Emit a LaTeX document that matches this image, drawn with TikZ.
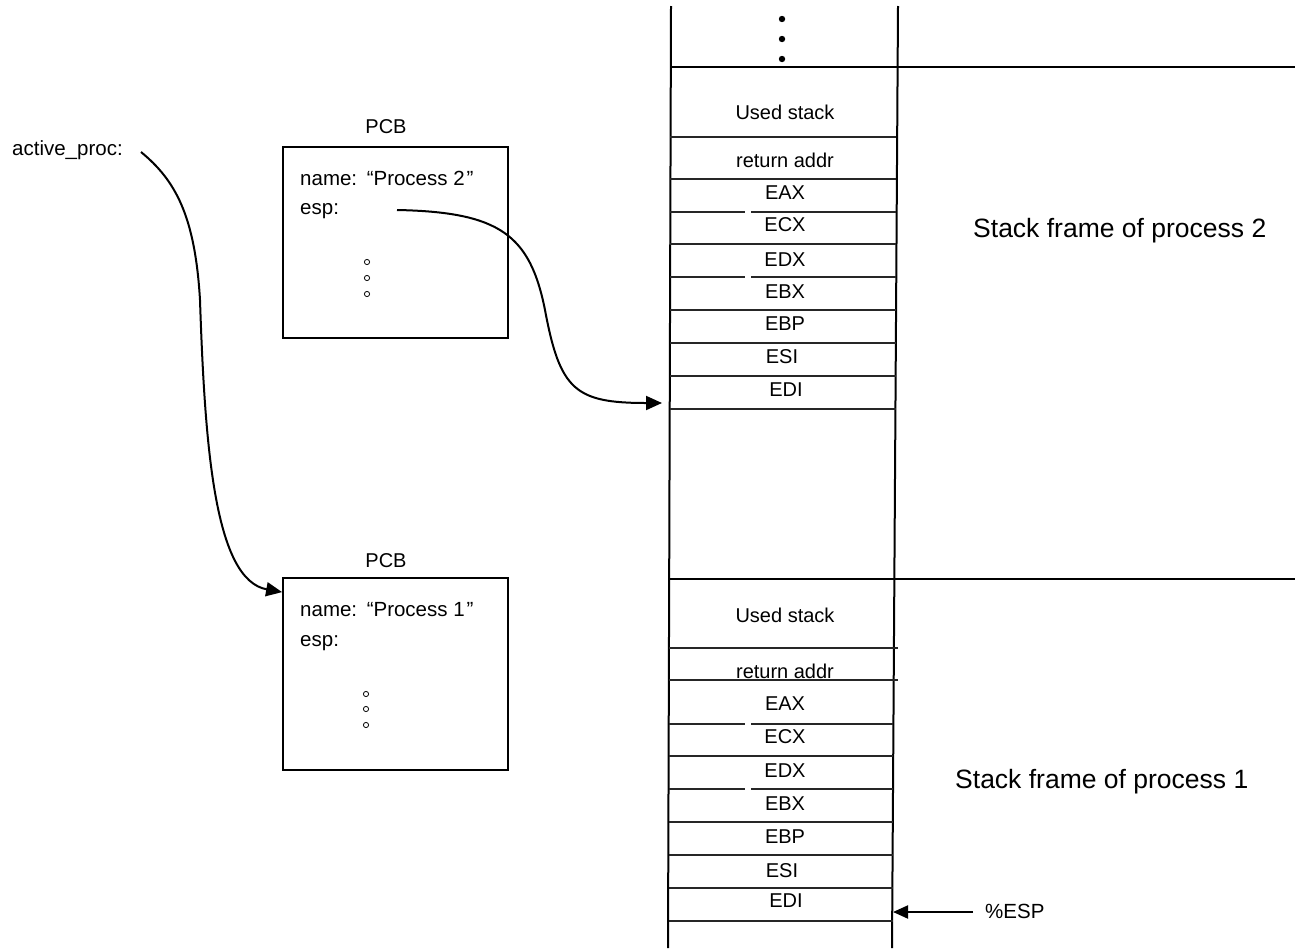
\documentclass[tikz,border=0pt]{standalone}
\usepackage{fontspec}
\setmainfont{Liberation Sans}
\usetikzlibrary{arrows.meta,calc}
\begin{document}
\begin{tikzpicture}[x=1pt,y=-1pt,
  lbl/.style={inner sep=0pt, anchor=base, font=\fontsize{20}{24}\selectfont},
  lblw/.style={inner sep=0pt, anchor=base west, font=\fontsize{20.5}{24}\selectfont},
  big/.style={inner sep=0pt, anchor=base west, font=\fontsize{26.5}{32}\selectfont},
  pcbbox/.style={draw, line width=1.8pt, minimum width=225pt, minimum height=191pt, inner sep=0pt},
  row/.style={line width=1.2pt, draw=black!85},
  wall/.style={line width=2pt},
  sep/.style={line width=1.6pt},
  conn/.style={line width=2pt, -{Triangle[length=16pt,width=14pt]}},
  dotc/.style={line width=0.8pt}]
\useasboundingbox (0,0) rectangle (1295,948);

% stack walls
\draw[wall] (671,6) -- (668,948);
\draw[wall] (898,6) -- (892,948);
% frame separators
\draw[sep] (670,67) -- (1295,67);
\draw[sep] (669,579) -- (1295,579);
% dots on top
\fill (782,19) circle (3.2pt);
\fill (782,39) circle (3.2pt);
\fill (782,59) circle (3.2pt);

% top frame rows
\foreach \y in {137,179,244,310,343,376,409} \draw[row] (670,\y) -- (896,\y);
\foreach \y in {212,277} {\draw[row] (670,\y) -- (745,\y); \draw[row] (751,\y) -- (896,\y);}
% bottom frame rows
\foreach \y in {648,680} \draw[row] (669,\y) -- (898,\y);
\foreach \y in {756,822,855,888,921} \draw[row] (669,\y) -- (893,\y);
\foreach \y in {724,789} {\draw[row] (669,\y) -- (745,\y); \draw[row] (751,\y) -- (893,\y);}

% top frame labels
\node[lbl] (us2) at (785,119) {Used stack};
\node[lbl] (ra2) at (785,167) {return addr};
\node[lbl] (eax2) at (785,199) {EAX};
\node[lbl] (ecx2) at (785,231) {ECX};
\node[lbl] (edx2) at (785,266) {EDX};
\node[lbl] (ebx2) at (785,298) {EBX};
\node[lbl] (ebp2) at (785,330) {EBP};
\node[lbl] (esi2) at (782,363) {ESI};
\node[lbl] (edi2) at (786,396) {EDI};
% bottom frame labels
\node[lbl] (us1) at (785,622) {Used stack};
\node[lbl] (ra1) at (785,678) {return addr};
\node[lbl] (eax1) at (785,710) {EAX};
\node[lbl] (ecx1) at (785,743) {ECX};
\node[lbl] (edx1) at (785,777) {EDX};
\node[lbl] (ebx1) at (785,810) {EBX};
\node[lbl] (ebp1) at (785,843) {EBP};
\node[lbl] (esi1) at (782,877) {ESI};
\node[lbl] (edi1) at (786,907) {EDI};

\node[big] (sf2) at (973,237) {Stack frame of process 2};
\node[big] (sf1) at (955,788) {Stack frame of process 1};

% %ESP pointer
\node[lblw] (espreg) at (985,918) {\%ESP};
\coordinate (espsrc) at (973,912);
\coordinate (espdst) at (893,912);
\draw[line width=2pt, -{Triangle[length=15pt,width=13pt]}] (espsrc) -- (espdst);

% active_proc
\node[lblw] (ap) at (12,155) {active\_proc:};

% PCBs
\node[pcbbox] (pcb2) at (395.5,242.5) {};
\node[pcbbox, minimum height=192pt] (pcb1) at (395.5,674) {};
\node[lbl] (pcb2t) at (386,133) {PCB};
\node[lbl] (pcb1t) at (386,567) {PCB};
\node[lblw] (name2) at (300,185) {name: \kern2pt“Process 2\kern2pt”};
\node[lblw] (esp2) at (300,214) {esp:};
\node[lblw] (name1) at (300,616) {name: \kern2pt“Process 1\kern2pt”};
\node[lblw] (esp1) at (300,646) {esp:};
\foreach \y in {262,278,294} \draw[dotc] (367,\y) circle (2.6pt);
\foreach \y in {694,709,725} \draw[dotc] (366,\y) circle (2.6pt);

% connectors
\coordinate (apout) at (141,152);
\draw[conn] (apout) .. controls (175,180) and (195,215) .. (200,300)
  .. controls (205,450) and (215,580) .. ($(pcb1.north west)+(0,15)$);
\coordinate (espout) at (397,210);
\coordinate (stk2in) at (662,403);
\draw[conn] (espout) .. controls (500,212) and (530,235) .. (545,310)
  .. controls (560,390) and (575,403) .. (stk2in);
\end{tikzpicture}
\end{document}
